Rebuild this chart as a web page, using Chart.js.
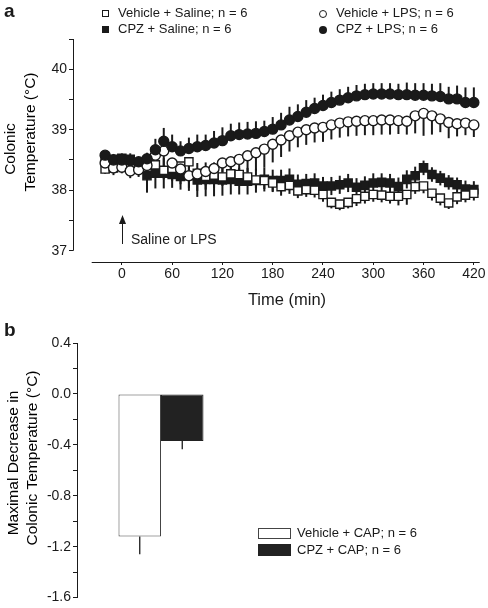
<!DOCTYPE html>
<html>
<head>
<meta charset="utf-8">
<script src="https://cdn.jsdelivr.net/npm/chart.js@4.4.1/dist/chart.umd.min.js"></script>
<style>
body { margin: 0; background: #fff; }
#wrap { position: relative; width: 488px; height: 608px; font-family: "Liberation Sans", Arial, sans-serif; color: #1a1a1a; }
canvas { position: absolute; left: 0; }
#tempChart { top: 0; }
#capChart { top: 320px; }
.lg { position: absolute; font-size: 13px; line-height: 16px; white-space: nowrap; }
.mk { position: absolute; box-sizing: border-box; }
</style>
</head>
<body>
<div id="wrap">
  <canvas id="tempChart" width="488" height="320"></canvas>
  <canvas id="capChart" width="488" height="288"></canvas>

  <!-- legend, panel a -->
  <div class="mk" style="left:102px;top:10px;width:7px;height:7px;border:1px solid #1a1a1a;background:#fff"></div>
  <div class="lg" style="left:118px;top:5px">Vehicle + Saline; n = 6</div>
  <div class="mk" style="left:102px;top:26px;width:7px;height:7px;background:#1a1a1a"></div>
  <div class="lg" style="left:118px;top:21px">CPZ + Saline; n = 6</div>
  <div class="mk" style="left:319px;top:10px;width:8px;height:8px;border:1.3px solid #1a1a1a;border-radius:50%;background:#fff"></div>
  <div class="lg" style="left:336px;top:5px">Vehicle + LPS; n = 6</div>
  <div class="mk" style="left:319px;top:26px;width:8px;height:8px;border-radius:50%;background:#1a1a1a"></div>
  <div class="lg" style="left:336px;top:21px">CPZ + LPS; n = 6</div>

  <!-- legend, panel b -->
  <div class="mk" style="left:258px;top:528px;width:33px;height:11px;border:1px solid #444;background:#fff"></div>
  <div class="lg" style="left:297px;top:525px">Vehicle + CAP; n = 6</div>
  <div class="mk" style="left:258px;top:544px;width:33px;height:12px;background:#222"></div>
  <div class="lg" style="left:297px;top:542px">CPZ + CAP; n = 6</div>
</div>
<script>
// time after injection (min)
var times = [-20, -10, 0, 10, 20, 30, 40, 50, 60, 70, 80, 90, 100, 110, 120, 130, 140, 150, 160, 170, 180, 190,
  200, 210, 220, 230, 240, 250, 260, 270, 280, 290, 300, 310, 320, 330, 340, 350, 360, 370, 380, 390, 400, 410, 420];

// colonic temperature (°C), mean and SEM
var vehSaline = [38.35, 38.37, 38.40, 38.38, 38.36, 38.38,
  38.42, 38.33, 38.36, 38.40, 38.47, 38.28, 38.23, 38.25, 38.22,
  38.27, 38.26, 38.22, 38.17, 38.16, 38.12, 38.06, 38.08,
  37.99, 38.01, 38.00, 37.93, 37.80, 37.77, 37.80, 37.86, 37.90, 37.93,
  37.92, 37.90, 37.90, 37.93, 38.06, 38.07, 37.95, 37.87, 37.79, 37.89, 37.92, 37.95];
var vehSalineErr = [0.08, 0.08, 0.10, 0.10, 0.10, 0.12,
  0.15, 0.15, 0.14, 0.14, 0.15, 0.15, 0.15, 0.15, 0.15,
  0.15, 0.14, 0.14, 0.14, 0.14, 0.15, 0.15, 0.14,
  0.12, 0.12, 0.12, 0.12, 0.10, 0.10, 0.10, 0.12, 0.12, 0.12,
  0.12, 0.12, 0.15, 0.17, 0.12, 0.12, 0.12, 0.12, 0.10, 0.12, 0.12, 0.12];

var cpzSaline = [38.50, 38.51, 38.53, 38.51, 38.43, 38.24,
  38.28, 38.28, 38.26, 38.23, 38.24, 38.17, 38.18, 38.18, 38.17,
  38.18, 38.15, 38.15, 38.16, 38.18, 38.16, 38.16, 38.18,
  38.10, 38.11, 38.12, 38.07, 38.07, 38.09, 38.12, 38.05, 38.08, 38.12,
  38.13, 38.12, 38.06, 38.18, 38.24, 38.37, 38.26, 38.20, 38.13, 38.09, 38.02, 38.01];
var cpzSalineErr = [0.08, 0.08, 0.08, 0.10, 0.12, 0.28,
  0.25, 0.25, 0.22, 0.22, 0.25, 0.28, 0.28, 0.28, 0.26,
  0.25, 0.22, 0.22, 0.20, 0.20, 0.18, 0.18, 0.18,
  0.16, 0.16, 0.16, 0.15, 0.15, 0.15, 0.15, 0.15, 0.15, 0.16,
  0.15, 0.15, 0.15, 0.15, 0.15, 0.12, 0.12, 0.12, 0.12, 0.12, 0.14, 0.14];

var vehLps = [38.45, 38.37, 38.38, 38.32, 38.34, 38.41,
  38.58, 38.65, 38.45, 38.35, 38.24, 38.27, 38.31, 38.36, 38.45,
  38.47, 38.51, 38.57, 38.62, 38.68, 38.76, 38.83, 38.90,
  38.96, 39.00, 39.03, 39.04, 39.08, 39.11, 39.13, 39.14, 39.15, 39.15,
  39.16, 39.16, 39.15, 39.14, 39.23, 39.27, 39.23, 39.18, 39.12, 39.10, 39.11, 39.08];
var vehLpsErr = [0.10, 0.12, 0.10, 0.12, 0.12, 0.15,
  0.30, 0.35, 0.30, 0.25, 0.20, 0.28, 0.30, 0.32, 0.35,
  0.35, 0.35, 0.32, 0.30, 0.30, 0.30, 0.28, 0.26,
  0.25, 0.25, 0.24, 0.24, 0.24, 0.24, 0.24, 0.24, 0.24, 0.24,
  0.24, 0.24, 0.22, 0.22, 0.29, 0.37, 0.31, 0.22, 0.26, 0.21, 0.20, 0.20];

var cpzLps = [38.58, 38.50, 38.50, 38.49, 38.47, 38.52,
  38.67, 38.81, 38.72, 38.65, 38.69, 38.72, 38.74, 38.78, 38.82,
  38.90, 38.92, 38.93, 38.94, 38.97, 39.01, 39.08, 39.16,
  39.22, 39.29, 39.35, 39.40, 39.45, 39.49, 39.53, 39.56, 39.58, 39.59,
  39.59, 39.59, 39.58, 39.58, 39.57, 39.57, 39.56, 39.55, 39.51, 39.51, 39.45, 39.45];
var cpzLpsErr = [0.06, 0.10, 0.08, 0.08, 0.08, 0.10,
  0.18, 0.22, 0.20, 0.16, 0.18, 0.20, 0.18, 0.20, 0.22,
  0.20, 0.20, 0.20, 0.20, 0.18, 0.20, 0.20, 0.22,
  0.20, 0.20, 0.18, 0.18, 0.18, 0.18, 0.18, 0.18, 0.18, 0.18,
  0.18, 0.18, 0.18, 0.20, 0.20, 0.20, 0.20, 0.22, 0.20, 0.22, 0.25, 0.25];

var timeTicks = [0, 60, 120, 180, 240, 300, 360, 420];
var tempTicks = [37, 37.5, 38, 38.5, 39, 39.5, 40, 40.5];

// panel b
var capGroups = ['Vehicle + CAP; n = 6', 'CPZ + CAP; n = 6'];
var capValues = [-1.12, -0.37];
var capErr = [0.14, 0.065];
var capTicks = [0.4, 0.2, 0, -0.2, -0.4, -0.6, -0.8, -1.0, -1.2, -1.4, -1.6];

var ink = '#1a1a1a';
var fontFamily = '"Liberation Sans", Arial, sans-serif';
Chart.defaults.font.family = fontFamily;
Chart.defaults.color = ink;

function points(vals) {
    return vals.map(function (v, i) { return { x: times[i], y: v }; });
}

// vertical SEM bars, drawn under the markers
var errorBars = {
    id: 'errorBars',
    beforeDatasetsDraw: function (chart) {
        var ctx = chart.ctx;
        var yScale = chart.scales.y;
        chart.data.datasets.forEach(function (ds, i) {
            if (!ds.errors) return;
            var meta = chart.getDatasetMeta(i);
            ctx.save();
            ctx.strokeStyle = ink;
            ctx.lineWidth = ds.errorWidth;
            meta.data.forEach(function (el, j) {
                var v = typeof ds.data[j] === 'object' ? ds.data[j].y : ds.data[j];
                var e = ds.errors[j];
                var top = yScale.getPixelForValue(ds.errorDir === 'down' ? v : v + e);
                var bot = yScale.getPixelForValue(ds.errorDir === 'up' ? v : v - e);
                ctx.beginPath();
                ctx.moveTo(el.x, top);
                ctx.lineTo(el.x, bot);
                ctx.stroke();
            });
            ctx.restore();
        });
    }
};

function rotatedText(ctx, text, x, y, size) {
    ctx.save();
    ctx.translate(x, y);
    ctx.rotate(-Math.PI / 2);
    ctx.font = size + 'px ' + fontFamily;
    ctx.textAlign = 'center';
    ctx.textBaseline = 'middle';
    ctx.fillText(text, 0, 0);
    ctx.restore();
}

// detached axis lines, titles and the injection arrow for panel a
var tempDecor = {
    id: 'tempDecor',
    afterDraw: function (chart) {
        var ctx = chart.ctx;
        var xs = chart.scales.x, ys = chart.scales.y, area = chart.chartArea;
        ctx.save();
        ctx.strokeStyle = ink;
        ctx.fillStyle = ink;
        ctx.lineWidth = 1;
        ctx.beginPath();
        ctx.moveTo(area.left + 0.5, ys.getPixelForValue(40.5));
        ctx.lineTo(area.left + 0.5, ys.getPixelForValue(37));
        ctx.moveTo(xs.getPixelForValue(-36), area.bottom + 0.5);
        ctx.lineTo(xs.getPixelForValue(427), area.bottom + 0.5);
        ctx.stroke();

        // arrow at t = 0
        var ax = Math.round(xs.getPixelForValue(0)) + 0.5;
        ctx.beginPath();
        ctx.moveTo(ax, 244);
        ctx.lineTo(ax, 222);
        ctx.stroke();
        ctx.beginPath();
        ctx.moveTo(ax, 215);
        ctx.lineTo(ax - 3.5, 224);
        ctx.lineTo(ax + 3.5, 224);
        ctx.closePath();
        ctx.fill();
        ctx.font = '14px ' + fontFamily;
        ctx.textBaseline = 'middle';
        ctx.textAlign = 'left';
        ctx.fillText('Saline or LPS', 131, 240);

        ctx.font = '16.5px ' + fontFamily;
        ctx.textAlign = 'center';
        ctx.fillText('Time (min)', 287, 300);

        ctx.font = 'bold 19px ' + fontFamily;
        ctx.textAlign = 'left';
        ctx.fillText('a', 4, 12);
        ctx.restore();

        rotatedText(ctx, 'Colonic', 11, 149, 15.5);
        rotatedText(ctx, 'Temperature (°C)', 30.5, 132, 15.5);
    }
};

var capDecor = {
    id: 'capDecor',
    afterDraw: function (chart) {
        var ctx = chart.ctx;
        ctx.save();
        ctx.fillStyle = ink;
        ctx.font = 'bold 19px ' + fontFamily;
        ctx.textBaseline = 'middle';
        ctx.fillText('b', 4, 11);
        ctx.restore();
        rotatedText(ctx, 'Maximal Decrease in', 14, 143, 15.5);
        rotatedText(ctx, 'Colonic Temperature (°C)', 33, 138, 15.5);
    }
};

function series(label, vals, errs, dir, style, filled, radius) {
    return {
        label: label,
        data: points(vals),
        errors: errs,
        errorDir: dir,
        errorWidth: 2,
        pointStyle: style,
        pointRadius: radius,
        pointBorderWidth: 1.4,
        pointBorderColor: ink,
        pointBackgroundColor: filled ? ink : '#fff',
        showLine: false
    };
}

new Chart(document.getElementById('tempChart'), {
    type: 'scatter',
    data: {
        datasets: [
            series('CPZ + LPS; n = 6', cpzLps, cpzLpsErr, 'up', 'circle', true, 5),
            series('Vehicle + LPS; n = 6', vehLps, vehLpsErr, 'down', 'circle', false, 5),
            series('Vehicle + Saline; n = 6', vehSaline, vehSalineErr, 'down', 'rect', false, 5.8),
            series('CPZ + Saline; n = 6', cpzSaline, cpzSalineErr, 'both', 'rect', true, 5.8)
        ]
    },
    options: {
        responsive: false,
        animation: false,
        events: [],
        layout: { padding: { top: 39, right: 6, bottom: 0, left: 0 } },
        plugins: { legend: { display: false }, tooltip: { enabled: false } },
        scales: {
            x: {
                type: 'linear',
                min: -58.3,
                max: 428.3,
                afterBuildTicks: function (scale) {
                    scale.ticks = timeTicks.map(function (v) { return { value: v }; });
                },
                afterFit: function (scale) { scale.height = 58; },
                border: { display: false },
                grid: { drawOnChartArea: false, tickLength: 3, color: ink },
                ticks: { font: { size: 14 }, padding: 1, maxRotation: 0 }
            },
            y: {
                min: 36.814,
                max: 40.5,
                afterBuildTicks: function (scale) {
                    scale.ticks = tempTicks.map(function (v) { return { value: v }; });
                },
                afterFit: function (scale) { scale.width = 73; },
                border: { display: false },
                grid: { drawOnChartArea: false, tickLength: 4, color: ink },
                ticks: {
                    font: { size: 14 },
                    padding: 2,
                    callback: function (v) { return v % 1 === 0 ? String(v) : ''; }
                }
            }
        }
    },
    plugins: [errorBars, tempDecor]
});

new Chart(document.getElementById('capChart'), {
    type: 'bar',
    data: {
        labels: [''],
        datasets: [
            {
                label: capGroups[0],
                data: [capValues[0]],
                errors: [capErr[0]],
                errorDir: 'down',
                errorWidth: 1.3,
                backgroundColor: '#fff',
                borderColor: '#444',
                borderWidth: 1,
                borderSkipped: false,
                barPercentage: 1,
                categoryPercentage: 0.506
            },
            {
                label: capGroups[1],
                data: [capValues[1]],
                errors: [capErr[1]],
                errorDir: 'down',
                errorWidth: 1.3,
                backgroundColor: '#222',
                borderColor: '#222',
                borderWidth: 1,
                borderSkipped: false,
                barPercentage: 1,
                categoryPercentage: 0.506
            }
        ]
    },
    options: {
        responsive: false,
        animation: false,
        events: [],
        layout: { padding: { top: 23, right: 243, bottom: 9, left: 0 } },
        plugins: { legend: { display: false }, tooltip: { enabled: false } },
        scales: {
            x: { display: false },
            y: {
                min: -1.6,
                max: 0.4,
                afterBuildTicks: function (scale) {
                    scale.ticks = capTicks.map(function (v) { return { value: v }; });
                },
                afterFit: function (scale) { scale.width = 77; },
                border: { display: true, color: ink, width: 1 },
                grid: { drawOnChartArea: false, tickLength: 4, color: ink },
                ticks: {
                    font: { size: 14 },
                    padding: 2,
                    callback: function (v) {
                        return Math.round(v * 10) % 4 === 0 ? v.toFixed(1) : '';
                    }
                }
            }
        }
    },
    plugins: [errorBars, capDecor]
});
</script>
</body>
</html>
